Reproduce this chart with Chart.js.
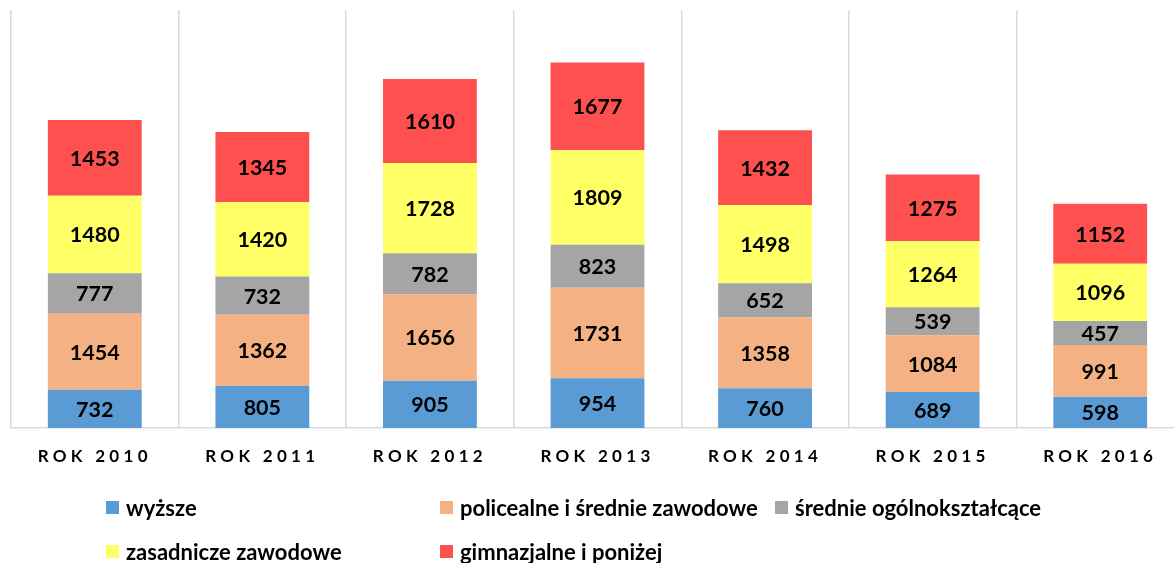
<!DOCTYPE html>
<html>
<head>
<meta charset="utf-8">
<script src="https://cdn.jsdelivr.net/npm/chart.js@4.4.1/dist/chart.umd.min.js"></script>
<style>
  html, body { margin: 0; padding: 0; background: #fff; overflow: hidden; width: 1174px; height: 563px; }
  #wrap { position: relative; width: 1195px; height: 563px; }
  #legend { position: absolute; left: 0; top: 0; width: 1174px; height: 563px; pointer-events: none;
            font-family: Lato, "Open Sans", sans-serif; font-weight: bold; font-size: 22px; color: #000; }
  .li { position: absolute; display: flex; align-items: center; white-space: nowrap; }
  .sw { width: 13px; height: 13px; margin-right: 7px; flex: none; }
</style>
</head>
<body>
<div id="wrap">
  <canvas id="c" width="1195" height="563"></canvas>
  <div id="legend"></div>
</div>
<script>
const categories = ["ROK 2010", "ROK 2011", "ROK 2012", "ROK 2013", "ROK 2014", "ROK 2015", "ROK 2016"];
const seriesNames = ["wyższe", "policealne i średnie zawodowe", "średnie ogólnokształcące", "zasadnicze zawodowe", "gimnazjalne i poniżej"];
const wyzsze = [732, 805, 905, 954, 760, 689, 598];
const policealne = [1454, 1362, 1656, 1731, 1358, 1084, 991];
const srednieOgolne = [777, 732, 782, 823, 652, 539, 457];
const zasadnicze = [1480, 1420, 1728, 1809, 1498, 1264, 1096];
const gimnazjalne = [1453, 1345, 1610, 1677, 1432, 1275, 1152];
const colors = ["#5B9BD5", "#F4B183", "#A5A5A5", "#FFFF66", "#FF5050"];

const seriesData = [wyzsze, policealne, srednieOgolne, zasadnicze, gimnazjalne];

const datasets = seriesData.map((d, i) => ({
  label: seriesNames[i],
  data: d,
  backgroundColor: colors[i],
  borderWidth: 0,
  categoryPercentage: 1.0,
  barPercentage: 0.56
}));

const valueLabels = {
  id: 'valueLabels',
  afterDatasetsDraw(chart) {
    const ctx = chart.ctx;
    ctx.save();
    ctx.letterSpacing = '0px';
    ctx.font = 'bold 21.5px Lato, "Open Sans", sans-serif';
    ctx.fillStyle = '#000';
    ctx.textAlign = 'center';
    ctx.textBaseline = 'middle';
    chart.data.datasets.forEach((ds, di) => {
      const meta = chart.getDatasetMeta(di);
      meta.data.forEach((el, i) => {
        const cy = (el.y + el.base) / 2;
        ctx.fillText(String(ds.data[i]), el.x, cy + 1);
      });
    });
    ctx.restore();
  }
};

const spacing = {
  id: 'spacing',
  beforeDraw(chart) { chart.ctx.letterSpacing = '4.3px'; },
  beforeDatasetsDraw(chart) { chart.ctx.letterSpacing = '0px'; }
};

new Chart(document.getElementById('c'), {
  type: 'bar',
  data: { labels: categories, datasets },
  options: {
    responsive: false,
    animation: false,
    layout: { padding: { left: 11, right: 11, top: 10, bottom: 0 } },
    plugins: { legend: { display: false }, tooltip: { enabled: false } },
    scales: {
      x: {
        stacked: true,
        offset: true,
        grid: { display: true, color: '#D9D9D9', lineWidth: 1.5, drawTicks: false, offset: true },
        border: { display: true, color: '#D9D9D9', width: 1.5 },
        ticks: { color: '#000', padding: 18, font: { family: 'Lato, "Open Sans", sans-serif', weight: 'bold', size: 17 } },
        afterFit(s) { s.height = 135; }
      },
      y: {
        stacked: true,
        display: false,
        min: 0,
        max: 8000
      }
    }
  },
  plugins: [spacing, valueLabels]
});

// legend (HTML), built from the series names and colours
const legendPos = [[106, 507], [440, 507], [775, 507], [106, 551], [440, 551]];
const lg = document.getElementById('legend');
seriesNames.forEach((name, i) => {
  const item = document.createElement('div');
  item.className = 'li';
  item.style.left = legendPos[i][0] + 'px';
  item.style.top = (legendPos[i][1] - 14) + 'px';
  item.style.height = '28px';
  const sw = document.createElement('span');
  sw.className = 'sw';
  sw.style.background = colors[i];
  const tx = document.createElement('span');
  tx.textContent = name;
  item.appendChild(sw);
  item.appendChild(tx);
  lg.appendChild(item);
});
</script>
</body>
</html>
